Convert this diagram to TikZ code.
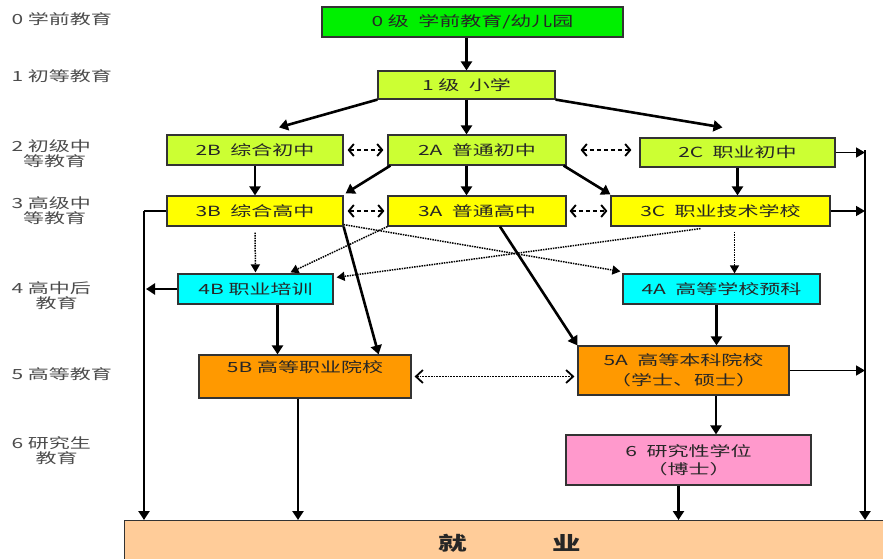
\documentclass[tikz,border=0pt]{standalone}
\usepackage{fontspec}
\setmainfont{Noto Sans CJK SC}[FakeStretch=1.5]
\usetikzlibrary{arrows.meta,calc}
\definecolor{czero}{HTML}{00F000}
\definecolor{cone}{HTML}{CCFF33}
\definecolor{cthree}{HTML}{FFFF00}
\definecolor{cfour}{HTML}{00FFFF}
\definecolor{cfive}{HTML}{FF9900}
\definecolor{csix}{HTML}{FF99CC}
\definecolor{cjob}{HTML}{FFCC99}
\tikzset{
    box/.style={
        rectangle,
        draw=black!80, line width=1.2pt,
        text=black!85,
        inner sep=0pt
    },
    lvlabel/.style={anchor=west, align=left, text=black!70},
    arr/.style={line width=2.6pt, -{Triangle[length=9pt,width=11pt]}},
    thinarr/.style={line width=1.6pt, -{Triangle[length=9pt,width=10pt]}},
    dotarr/.style={line width=1.5pt, densely dotted, -{Triangle[length=8pt,width=9pt]}},
    dasharr/.style={line width=1.9pt, dash pattern=on 4pt off 3pt,
        {Straight Barb[length=5pt,width=12pt]}-{Straight Barb[length=5pt,width=12pt]}},
}

\begin{document}
\begin{tikzpicture}[x=1pt, y=-1pt, font=\fontsize{14}{15}\selectfont]
    \useasboundingbox (0,0) rectangle (883,559);

    % levels
    \node [lvlabel] (t0) at (8, 19) {0 学前教育};
    \node [lvlabel] (t1) at (8, 76) {1 初等教育};
    \node [lvlabel] (t2) at (8, 154) {2 初级中\\\phantom{2}等教育};
    \node [lvlabel] (t3) at (8, 211) {3 高级中\\\phantom{3}等教育};
    \node [lvlabel] (t4) at (8, 296) {4 高中后\\\hspace*{24pt}教育};
    \node [lvlabel] (t5) at (8, 374) {5 高等教育};
    \node [lvlabel] (t6) at (8, 451) {6 研究生\\\hspace*{24pt}教育};

    % boxes
    \node [box, fill=czero, minimum width=301, minimum height=30] (lv0) at (472.5, 22) {0 级\ \ 学前教育/幼儿园};
    \node [box, fill=cone, minimum width=177, minimum height=28] (lv1) at (466.5, 85) {1 级\ \ 小学};
    \node [box, fill=cone, minimum width=176, minimum height=30] (b2B) at (255, 150) {2B\ \ 综合初中};
    \node [box, fill=cone, minimum width=178, minimum height=30] (b2A) at (477, 150) {2A\ \ 普通初中};
    \node [box, fill=cone, minimum width=195, minimum height=29] (b2C) at (737.5, 152.5) {2C\ \ 职业初中};
    \node [box, fill=cthree, minimum width=176, minimum height=30] (b3B) at (255, 211) {3B\ \ 综合高中};
    \node [box, fill=cthree, minimum width=178, minimum height=30] (b3A) at (477, 211) {3A\ \ 普通高中};
    \node [box, fill=cthree, minimum width=219, minimum height=30] (b3C) at (720.5, 211) {3C\ \ 职业技术学校};
    \node [box, fill=cfour, minimum width=155, minimum height=30] (b4B) at (255.5, 289) {4B 职业培训};
    \node [box, fill=cfour, minimum width=197, minimum height=30] (b4A) at (721.5, 289) {4A\ \ 高等学校预科};
    \node [box, fill=cfive, minimum width=212, minimum height=43, text height=12pt, text depth=20pt] (b5B) at (305, 376.5) {5B 高等职业院校};
    \node [box, fill=cfive, minimum width=211, minimum height=49, align=center, font=\fontsize{14}{20}\selectfont] (b5A) at (683.5, 370.5) {5A\ \ 高等本科院校\\（学士、硕士）};
    \node [box, fill=csix, minimum width=245, minimum height=50, align=center, font=\fontsize{14}{18}\selectfont] (b6) at (688.5, 460) {6\ \ 研究性学位\\（博士）};
    \node [box, fill=cjob, minimum width=770, minimum height=45, anchor=north west, font=\fontsize{19}{19}\selectfont\bfseries] (job) at (124, 520) {就\hspace{85pt}业};

    \coordinate (lbar) at (144, 211);
    \coordinate (rbar) at (865, 150);

    % solid arrows
    \draw [arr] (lv1.north |- lv0.south) -- (lv1.north);
    \draw [arr] (lv1.south) -- (lv1.south |- b2A.north);
    \draw [arr] (lv1.south west) -- ([xshift=24pt, yshift=7pt]b2B.north);
    \draw [arr] (lv1.south east) -- ([xshift=-15pt, yshift=10pt]b2C.north);
    \draw [arr] (b2B.south) -- (b3B.north);
    \draw [arr] ([xshift=3pt]b2A.south west) -- ([xshift=2pt, yshift=2pt]b3B.north east);
    \draw [arr] (lv1.south |- b2A.south) -- (lv1.south |- b3A.north);
    \draw [arr] ([xshift=-3pt]b2A.south east) -- ([yshift=1pt]b3C.north west);
    \draw [arr] (b2C.south) -- (b2C.south |- b3C.north);
    \draw [arr] (b3B.south east) -- ([xshift=-33pt]b5B.north east);
    \draw [arr] ([xshift=23pt]b3A.south) -- (b5A.north west);
    \draw [arr] ([xshift=22pt]b4B.south) -- ([xshift=22pt]b4B.south |- b5B.north);
    \draw [arr] ([xshift=-5pt]b4A.south) -- ([xshift=-5pt]b4A.south |- b5A.north);
    \draw [arr] ([xshift=32.5pt]b5A.south) -- ([xshift=32.5pt]b5A.south |- b6.north);
    \draw [arr] ([xshift=-10pt]b6.south) -- ([xshift=-10pt]b6.south |- job.north);
    \draw [arr] ([xshift=-7pt]b5B.south) -- ([xshift=-7pt]b5B.south |- job.north);

    % to the job, left and right
    \draw [line width=1.6pt] (b3B.west) -- (lbar);
    \draw [arr] (lbar) -- (lbar |- job.north);
    \draw [arr] (b4B.west) -- ([xshift=2pt]lbar |- b4B.west);
    \draw [thinarr] (b2C.east) -- (rbar |- b2C.east);
    \draw [thinarr] (b3C.east) -- (rbar |- b3C.east);
    \draw [thinarr] (b5A.east) -- (rbar |- b5A.east);
    \draw [line width=1.6pt] (rbar) -- (rbar |- b3C.east);
    \draw [arr] (rbar |- b3C.east) -- (rbar |- job.north);

    % dotted
    \draw [dotarr] ([yshift=-6pt]b3B.south) -- ([yshift=1pt]b4B.north);
    \draw [dotarr] ([xshift=14pt, yshift=-5pt]b3C.south) -- ([xshift=14pt]b3C.south |- b4A.north);
    \draw [dotarr] (b3A.south west) -- ([xshift=35pt, yshift=1pt]b4B.north);
    \draw [dotarr] ([xshift=-20pt, yshift=-2pt]b3C.south) -- ([xshift=3pt, yshift=-4pt]b4B.north east);
    \draw [dotarr] ([yshift=2pt]b3B.south east) -- ([xshift=-2pt, yshift=2pt]b4A.north west);
    \draw [line width=1.8pt, densely dotted, {Straight Barb[length=7pt,width=13pt]}-{Straight Barb[length=7pt,width=13pt]}] ([xshift=3pt]b5B.east) -- ([xshift=-3pt]b5B.east -| b5A.west);

    % dashed
    \draw [dasharr, shorten <=4pt, shorten >=4pt] (b2B.east) -- (b2A.west);
    \draw [dasharr, shorten <=14pt, shorten >=8pt] (b2A.east) -- (b2A.east -| b2C.west);
    \draw [dasharr, shorten <=4pt, shorten >=3pt] (b3B.east) -- (b3A.west);
    \draw [dasharr, shorten <=3pt, shorten >=3pt] (b3A.east) -- (b3C.west);
\end{tikzpicture}
\end{document}
